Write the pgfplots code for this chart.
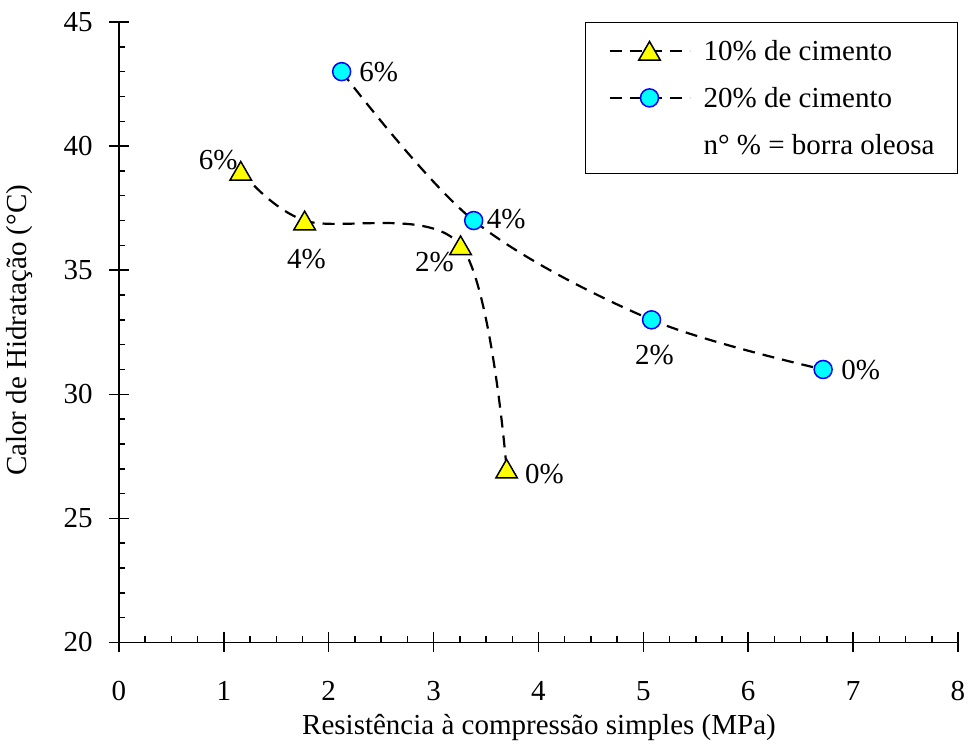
\documentclass[border=0pt]{standalone}
\usepackage{fontspec}
\setmainfont{Liberation Serif}
\usepackage{pgfplots}
\usepackage{pgfplotstable}
\pgfplotsset{compat=1.18}
\definecolor{myyellow}{HTML}{FFFF00}
\definecolor{mycyan}{HTML}{00FFFF}
\definecolor{myblue}{HTML}{0000FF}

\pgfplotstableread{
x y lab dx dy
1.161 39 6 -11.25 2.2
1.770 37 4 0.9 -22.7
3.257 36 2 -13.1 -11.4
3.696 27 0 18.9 -6.1
}\tabA
\pgfplotstableread{
x y lab dx dy
2.123 43 6 18.5 -4.9
3.382 37 4 16.2 -4.1
5.078 33 2 1.5 -22.5
6.714 31 0 18.75 -4.9
}\tabB

\begin{document}
\begin{tikzpicture}[font=\fontsize{14.5}{17}\selectfont]
\begin{axis}[
  at={(0pt,0pt)}, anchor=south west,
  scale only axis, width=419.5pt, height=310.25pt,
  xmin=0, xmax=8, ymin=20, ymax=45,
  axis x line=bottom, axis y line=left,
  axis line style={-, line width=0.75pt},
  xtick={0,...,8}, ytick={20,25,...,45},
  minor x tick num=3, minor y tick num=4,
  tick align=inside, major tick length=10pt, minor tick length=3pt,
  tick style={black, line width=0.75pt},
  major x tick style={yshift=-5pt}, major y tick style={xshift=-5pt},
  /pgf/number format/assume math mode=true,
  xticklabel style={anchor=base, inner sep=0pt, yshift=-29pt},
  yticklabel style={anchor=east, inner sep=0pt, xshift=-13pt},
  xlabel={Resistência à compressão simples (MPa)},
  ylabel={Calor de Hidratação (°C)},
  xlabel style={at={(axis description cs:0.5006,-0.1362)}, anchor=center},
  ylabel style={at={(axis description cs:-0.118,0.503)}, anchor=center},
  legend style={at={(axis description cs:1,1)}, anchor=north east,
    draw=black, line width=0.5pt, fill=white,
    inner xsep=11.5pt, inner ysep=6.3pt, row sep=7.7pt, column sep=6.5pt,
    nodes={inner sep=0pt, text height=12.8pt, text depth=3pt}},
  legend cell align=left,
  legend image code/.code={\draw[mark repeat=2,mark phase=2,#1] plot coordinates {(0pt,0pt) (20pt,0pt) (40pt,0pt)};},
  point meta=explicit symbolic,
  nodes near coords={\pgfplotspointmeta\%},
  visualization depends on={\thisrow{dx} \as \mydx},
  visualization depends on={\thisrow{dy} \as \mydy},
  every node near coord/.append style={anchor=base, inner sep=0pt, text=black, solid,
    xshift=\mydx pt, yshift=\mydy pt, font=\fontsize{14.5}{17}\selectfont},
]
\addplot[black, line width=1.1pt, dash pattern=on 6pt off 4pt, smooth, tension=0.55,
  mark=triangle*, mark size=6.2pt,
  mark options={solid, fill=myyellow, draw=black, line width=0.75pt, yshift=-1.5pt}]
  table[x=x, y=y, meta=lab] {\tabA};
\addlegendentry{10\% de cimento}
\addplot[black, line width=1.1pt, dash pattern=on 6pt off 4pt, smooth, tension=0.55,
  mark=*, mark size=4.5pt,
  mark options={solid, fill=mycyan, draw=myblue, line width=0.75pt}]
  table[x=x, y=y, meta=lab] {\tabB};
\addlegendentry{20\% de cimento}
\addlegendimage{empty legend}
\addlegendentry{n° \% = borra oleosa}
\end{axis}
\pgfresetboundingbox
\path (-59.5pt,-55.25pt) rectangle (425.5pt,321.25pt);
\end{tikzpicture}
\end{document}
